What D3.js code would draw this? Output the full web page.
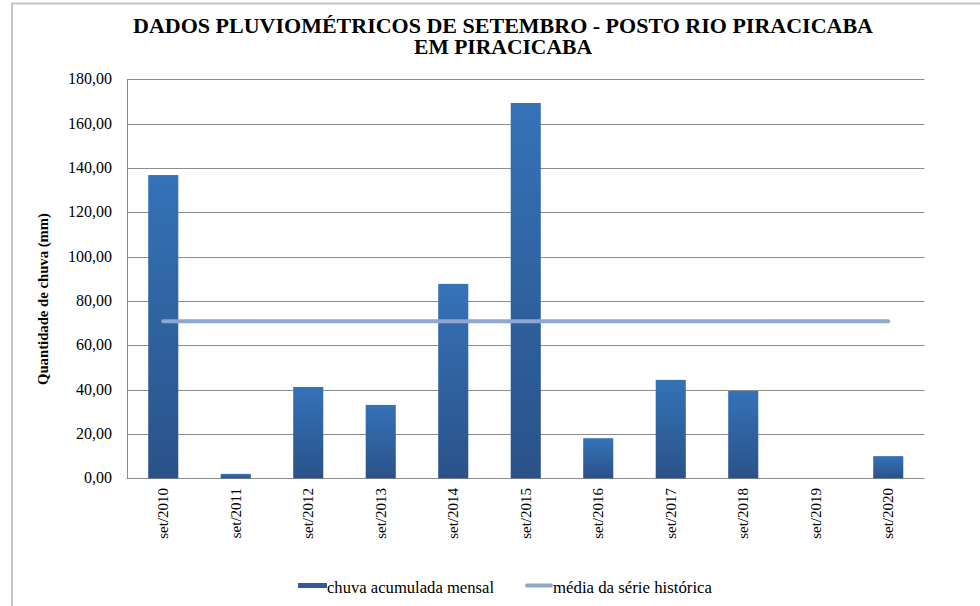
<!DOCTYPE html>
<html>
<head>
<meta charset="utf-8">
<script src="https://cdn.jsdelivr.net/npm/d3@7"></script>
<style>
  body { margin: 0; background: #fff; }
  svg text { font-family: "Liberation Serif", "Times New Roman", Times, "DejaVu Serif", serif; fill: #000; }
</style>
</head>
<body>
<div id="chart"></div>
<script>
// dados do gráfico
var categorias = ["set/2010", "set/2011", "set/2012", "set/2013", "set/2014", "set/2015",
                  "set/2016", "set/2017", "set/2018", "set/2019", "set/2020"]
var chuvaMensal = [136.8, 2.0, 41.2, 33.1, 87.7, 169.3, 18.1, 44.4, 39.4, 0, 10.0]
var mediaHistorica = [70.8, 70.8, 70.8, 70.8, 70.8, 70.8, 70.8, 70.8, 70.8, 70.8, 70.8]
var yTicks = [0, 20, 40, 60, 80, 100, 120, 140, 160, 180]
var tituloLinhas = ["DADOS PLUVIOMÉTRICOS DE SETEMBRO - POSTO RIO PIRACICABA", "EM PIRACICABA"]
var legendaNomes = ["chuva acumulada mensal", "média da série histórica"]

var W = 980, H = 606
var margin = { left: 127, right: 55.5, top: 79.3, bottom: 127.7 }
var fonte = "'Liberation Serif', 'Times New Roman', serif"

var svg = d3.select("#chart").append("svg")
  .attr("width", W)
  .attr("height", H)
  .attr("font-family", fonte)

// borda do gráfico
svg.append("rect")
  .attr("x", 12).attr("y", 3.5)
  .attr("width", 1000).attr("height", 700)
  .attr("fill", "none")
  .attr("stroke", "#c4c4c4")
  .attr("stroke-width", 2)

var defs = svg.append("defs")
var grad = defs.append("linearGradient")
  .attr("id", "barGrad")
  .attr("x1", 0).attr("y1", 0).attr("x2", 0).attr("y2", 1)
grad.append("stop").attr("offset", "0%").attr("stop-color", "#3572b8")
grad.append("stop").attr("offset", "100%").attr("stop-color", "#2a5288")

var x = d3.scaleBand()
  .domain(categorias)
  .range([margin.left, W - margin.right])
  .paddingInner(0.585)
  .paddingOuter(0.2925)

var y = d3.scaleLinear()
  .domain([0, 180])
  .range([H - margin.bottom, margin.top])

var g = svg.append("g")

// linhas de grade
g.selectAll(".grid")
  .data(yTicks)
  .enter().append("line")
  .attr("class", "grid")
  .attr("x1", margin.left)
  .attr("x2", W - margin.right)
  .attr("y1", function(d) { return Math.round(y(d)) + 0.5 })
  .attr("y2", function(d) { return Math.round(y(d)) + 0.5 })
  .attr("stroke", "#8c8c8c")
  .attr("stroke-width", 1)

// eixo y
g.append("line")
  .attr("x1", margin.left + 0.5).attr("x2", margin.left + 0.5)
  .attr("y1", y(180)).attr("y2", y(0))
  .attr("stroke", "#8c8c8c")

g.selectAll(".ytick")
  .data(yTicks)
  .enter().append("text")
  .attr("class", "ytick")
  .attr("x", 112)
  .attr("y", function(d) { return y(d) + 5 })
  .attr("text-anchor", "end")
  .style("font-size", "16px")
  .text(function(d) { return d3.format(".2f")(d).replace(".", ",") })

// barras
g.selectAll(".bar")
  .data(chuvaMensal)
  .enter().append("rect")
  .attr("class", "bar")
  .attr("x", function(d, i) { return x(categorias[i]) })
  .attr("y", function(d) { return y(d) })
  .attr("width", x.bandwidth())
  .attr("height", function(d) { return y(0) - y(d) })
  .attr("fill", "url(#barGrad)")

// linha da média
var line = d3.line()
  .x(function(d, i) { return x(categorias[i]) + x.bandwidth() / 2 })
  .y(function(d) { return y(d) })

g.append("path")
  .datum(mediaHistorica)
  .attr("d", line)
  .attr("fill", "none")
  .attr("stroke", "#8ea7cf")
  .attr("stroke-width", 4)
  .attr("stroke-linecap", "round")

// rótulos do eixo x
g.selectAll(".xlabel")
  .data(categorias)
  .enter().append("text")
  .attr("class", "xlabel")
  .attr("transform", function(d) {
    return "translate(" + (x(d) + x.bandwidth() / 2 + 5) + "," + 488 + ") rotate(-90)"
  })
  .attr("text-anchor", "end")
  .style("font-size", "15px")
  .text(function(d) { return d })

// título do eixo y
svg.append("text")
  .attr("transform", "translate(48,299) rotate(-90)")
  .attr("text-anchor", "middle")
  .style("font-size", "14.5px")
  .style("font-weight", "bold")
  .attr("textLength", 172)
  .attr("lengthAdjust", "spacingAndGlyphs")
  .text("Quantidade de chuva (mm)")

// título
var tituloLarg = [740, 178]
svg.selectAll(".title")
  .data(tituloLinhas)
  .enter().append("text")
  .attr("class", "title")
  .attr("x", 503)
  .attr("y", function(d, i) { return 32.5 + i * 21 })
  .attr("text-anchor", "middle")
  .attr("textLength", function(d, i) { return tituloLarg[i] })
  .attr("lengthAdjust", "spacingAndGlyphs")
  .style("font-size", "20px")
  .style("font-weight", "bold")
  .text(function(d) { return d })

// legenda
var leg = svg.append("g")
leg.append("rect")
  .attr("x", 298).attr("y", 583)
  .attr("width", 29).attr("height", 5)
  .attr("fill", "#2e5c98")
leg.append("text")
  .attr("x", 327).attr("y", 593)
  .style("font-size", "16px")
  .attr("textLength", 167)
  .attr("lengthAdjust", "spacingAndGlyphs")
  .text(legendaNomes[0])
leg.append("line")
  .attr("x1", 527).attr("x2", 551)
  .attr("y1", 585.5).attr("y2", 585.5)
  .attr("stroke", "#8ea7cf")
  .attr("stroke-width", 4)
  .attr("stroke-linecap", "round")
leg.append("text")
  .attr("x", 553).attr("y", 593)
  .style("font-size", "16px")
  .attr("textLength", 159)
  .attr("lengthAdjust", "spacingAndGlyphs")
  .text(legendaNomes[1])
</script>
</body>
</html>
